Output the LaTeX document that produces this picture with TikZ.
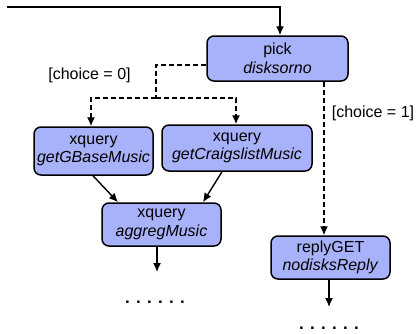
\documentclass[tikz,border=0pt]{standalone}
\usepackage{fontspec}
\setmainfont{Liberation Sans}
\usetikzlibrary{arrows.meta}
\definecolor{boxfill}{RGB}{168,178,250}
\tikzset{
  opbox/.style={draw=black, line width=1.5pt, fill=boxfill, rounded corners=7pt,
    align=center, inner sep=0pt, font=\fontsize{16}{18.5}\selectfont},
  conn/.style={line width=1.4pt, -{Latex[length=9pt,width=8pt]}},
  dconn/.style={conn, dash pattern=on 5pt off 3pt},
  lbl/.style={font=\fontsize{16}{18}\selectfont, inner sep=0pt},
  dots/.style={font=\fontsize{17}{20}\selectfont\bfseries, inner sep=0pt}
}
\begin{document}
\begin{tikzpicture}[x=1pt,y=-1pt]
\useasboundingbox (0,0) rectangle (416,333);
\node[opbox, minimum width=141pt, minimum height=45pt] (pick) at (277.5,58.5) {pick\\\textit{disksorno}};
\node[opbox, minimum width=119pt, minimum height=48pt] (gbase) at (93.5,151) {xquery\\\textit{getGBaseMusic}};
\node[opbox, minimum width=150pt, minimum height=46pt] (craig) at (237,148) {xquery\\\textit{getCraigslistMusic}};
\node[opbox, minimum width=119pt, minimum height=43pt] (aggreg) at (161.5,224.5) {xquery\\\textit{aggregMusic}};
\node[opbox, minimum width=119pt, minimum height=43pt] (reply) at (330.5,257.5) {replyGET\\\textit{nodisksReply}};
\node[lbl] (c0) at (89.5,75) {[choice = 0]};
\node[lbl] (c1) at (373,113) {[choice = 1]};
\node[dots] (d1) at (155,302) {. . . . . .};
\node[dots] (d2) at (329,328) {. . . . . .};
\coordinate (start) at (7,7);
\coordinate (corner) at (280,7);
\coordinate (split) at (156,98);
\coordinate (e1) at (157,272);
\coordinate (e2) at (329,307);
\draw[conn] (start) -- (corner) -- (corner |- pick.north);
\draw[line width=1.4pt, dash pattern=on 5pt off 3pt] ([yshift=-6.5pt]pick.west) -| (split);
\draw[dconn] (split) -| ([xshift=-2.5pt]gbase.north);
\draw[dconn] (split) -| ([xshift=-1pt]craig.north);
\draw[dconn] ([xshift=46.5pt]pick.south) -- ([xshift=46.5pt]pick.south |- reply.north);
\draw[conn] ([xshift=-0.5pt]gbase.south) -- ([xshift=-43.5pt]aggreg.north);
\draw[conn] ([xshift=-15pt]craig.south) -- ([xshift=41.5pt]aggreg.north);
\draw[conn] (aggreg.south -| e1) -- (e1);
\draw[conn] (reply.south -| e2) -- (e2);
\end{tikzpicture}
\end{document}
